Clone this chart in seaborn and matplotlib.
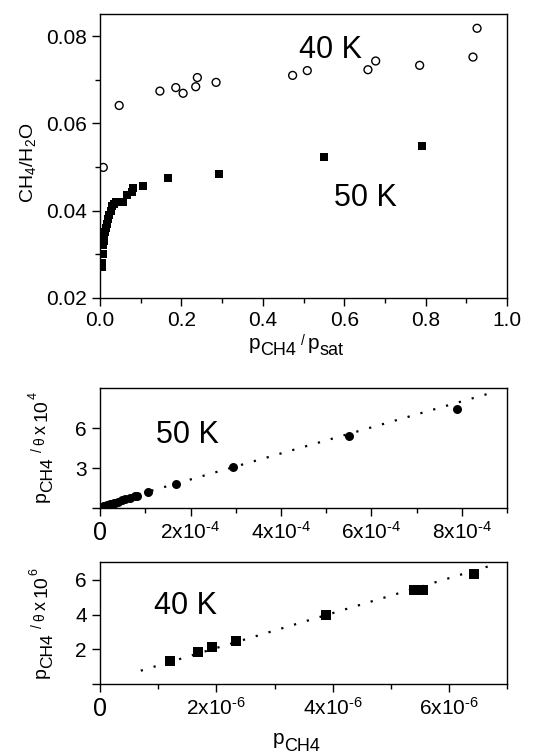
import numpy as np
import pandas as pd
import matplotlib
matplotlib.use('Agg')
import matplotlib.pyplot as plt
import seaborn as sns
from matplotlib.ticker import MultipleLocator, FixedLocator, FixedFormatter

# --- data ---
# top panel: CH4/H2O vs p/psat
x40 = [0.008, 0.047, 0.147, 0.186, 0.204, 0.235, 0.239, 0.285, 0.473, 0.509,
       0.658, 0.677, 0.785, 0.916, 0.926]
y40 = [0.0499, 0.0641, 0.0674, 0.0682, 0.0669, 0.0684, 0.0705, 0.0694, 0.0710, 0.0721,
       0.0723, 0.0743, 0.0733, 0.0752, 0.0818]

x50 = [0.005, 0.006, 0.007, 0.008, 0.009, 0.010, 0.012, 0.014, 0.016, 0.019,
       0.022, 0.026, 0.030, 0.034, 0.040, 0.048, 0.056, 0.066, 0.078, 0.082,
       0.106, 0.168, 0.292, 0.549, 0.790]
y50 = [0.027, 0.028, 0.030, 0.032, 0.033, 0.034, 0.035, 0.036, 0.037, 0.038,
       0.039, 0.040, 0.041, 0.0415, 0.042, 0.042, 0.042, 0.0435, 0.0442, 0.0452,
       0.0457, 0.0474, 0.0485, 0.0523, 0.0549]

# middle panel: 50 K linearised isotherm
p50 = [0.05e-4, 0.06e-4, 0.07e-4, 0.08e-4, 0.09e-4, 0.10e-4, 0.12e-4, 0.14e-4, 0.16e-4, 0.19e-4,
       0.22e-4, 0.26e-4, 0.30e-4, 0.34e-4, 0.40e-4, 0.48e-4, 0.56e-4, 0.66e-4, 0.78e-4, 0.82e-4,
       1.06e-4, 1.69e-4, 2.93e-4, 5.50e-4, 7.89e-4]
q50 = [0.10, 0.11, 0.12, 0.13, 0.14, 0.15, 0.18, 0.20, 0.22, 0.26,
       0.29, 0.34, 0.38, 0.42, 0.49, 0.59, 0.69, 0.78, 0.91, 0.94,
       1.20, 1.83, 3.08, 5.40, 7.43]
fit50_x = [0.0, 8.56e-4]
fit50_y = [0.20, 8.57]

# bottom panel: 40 K linearised isotherm
p40 = [1.21e-6, 1.68e-6, 1.93e-6, 2.34e-6, 3.89e-6, 5.40e-6, 5.55e-6, 6.43e-6]
q40 = [1.33, 1.85, 2.10, 2.47, 3.96, 5.41, 5.41, 6.36]
fit40_x = [0.70e-6, 6.76e-6]
fit40_y = [0.76, 6.86]

mid_xticks = [0, 2e-4, 4e-4, 6e-4, 8e-4]
mid_xlabels = ['0', '2x10$^{‐4}$', '4x10$^{‐4}$', '6x10$^{‐4}$', '8x10$^{‐4}$']
bot_xticks = [0, 2e-6, 4e-6, 6e-6]
bot_xlabels = ['0', '2x10$^{‐6}$', '4x10$^{‐6}$', '6x10$^{‐6}$']

# --- style ---
sns.set_style("ticks")
plt.rcParams['font.family'] = ['Liberation Sans', 'DejaVu Sans']
plt.rcParams['mathtext.fontset'] = 'custom'
plt.rcParams['mathtext.rm'] = 'Liberation Sans'
plt.rcParams['mathtext.it'] = 'Liberation Sans'
plt.rcParams['mathtext.default'] = 'regular'
for k in ['text.color', 'axes.labelcolor', 'axes.edgecolor', 'xtick.color', 'ytick.color']:
    plt.rcParams[k] = 'black'
plt.rcParams['xtick.direction'] = 'out'
plt.rcParams['ytick.direction'] = 'out'

tick_fs = 15
zero_fs = 18
txt_fs = 22

W, H = 535, 754
fig = plt.figure(figsize=(W / 100, H / 100), dpi=100)
ax1 = fig.add_axes([0.187, 0.605, 0.761, 0.376])
ax2 = fig.add_axes([0.187, 0.326, 0.761, 0.159])
ax3 = fig.add_axes([0.187, 0.093, 0.761, 0.161])


def style_ax(ax):
    for s in ax.spines.values():
        s.set_visible(True)
        s.set_color('black')
        s.set_linewidth(1.0)
    ax.tick_params(which='major', length=5.5, width=1, labelsize=tick_fs, pad=4)
    ax.tick_params(which='minor', length=3.5, width=1)
    ax.tick_params(top=False, right=False)


def rich_label(pieces, cx, cy, rotation=0):
    # pieces: (text, size, baseline shift px, gap before px); cx, cy in pixels from top-left
    renderer = fig.canvas.get_renderer()
    widths = []
    for s, fs, dy, gap in pieces:
        t = fig.text(0, 0, s, fontsize=fs)
        widths.append(t.get_window_extent(renderer).width)
        t.remove()
    total = sum(widths) + sum(p[3] for p in pieces)
    pos = -total / 2
    for (s, fs, dy, gap), w in zip(pieces, widths):
        pos += gap
        if rotation == 0:
            px, py = cx + pos, (H - cy) + dy
        else:
            px, py = cx - dy, (H - cy) + pos
        fig.text(px / W, py / H, s, fontsize=fs, rotation=rotation,
                 rotation_mode='anchor', ha='left', va='baseline')
        pos += w


# top panel
df40 = pd.DataFrame({'x': x40, 'y': y40})
df50 = pd.DataFrame({'x': x50, 'y': y50})
sns.scatterplot(data=df40, x='x', y='y', ax=ax1, marker='o', s=32,
                facecolors='none', edgecolor='black', linewidth=1.0)
sns.scatterplot(data=df50, x='x', y='y', ax=ax1, marker='s', s=32,
                color='black', linewidth=0)
ax1.set_xlim(0, 1.0)
ax1.set_ylim(0.02, 0.085)
ax1.xaxis.set_major_locator(MultipleLocator(0.2))
ax1.xaxis.set_minor_locator(MultipleLocator(0.1))
ax1.yaxis.set_major_locator(MultipleLocator(0.02))
ax1.yaxis.set_minor_locator(MultipleLocator(0.01))
ax1.xaxis.set_major_formatter(plt.FuncFormatter(lambda v, p: f'{v:.1f}'))
ax1.yaxis.set_major_formatter(plt.FuncFormatter(lambda v, p: f'{v:.2f}'))
ax1.set_xlabel('')
ax1.set_ylabel('CH$_4$/H$_2$O', fontsize=14)
ax1.yaxis.set_label_coords(-0.152, 0.475)
ax1.text(0.565, 0.0768, '40 K', fontsize=txt_fs, ha='center', va='center')
ax1.text(0.653, 0.0428, '50 K', fontsize=txt_fs, ha='center', va='center')
style_ax(ax1)

# middle panel
dm = pd.DataFrame({'x': p50, 'y': q50})
dfit50 = pd.DataFrame({'x': fit50_x, 'y': fit50_y})
sns.lineplot(data=dfit50, x='x', y='y', ax=ax2, color='black',
             linestyle=(0, (1, 5)), linewidth=1.6)
sns.scatterplot(data=dm, x='x', y='y', ax=ax2, marker='o', s=42,
                color='black', linewidth=0)
ax2.set_xlim(0, 9e-4)
ax2.set_ylim(0, 9)
ax2.xaxis.set_major_locator(FixedLocator(mid_xticks))
ax2.xaxis.set_major_formatter(FixedFormatter(mid_xlabels))
ax2.xaxis.set_minor_locator(MultipleLocator(1e-4))
ax2.yaxis.set_major_locator(FixedLocator([0, 3, 6]))
ax2.yaxis.set_major_formatter(FixedFormatter(['', '3', '6']))
ax2.set_xlabel('')
ax2.set_ylabel('')
ax2.text(1.93e-4, 5.5, '50 K', fontsize=txt_fs, ha='center', va='center')
style_ax(ax2)

# bottom panel
db = pd.DataFrame({'x': p40, 'y': q40})
dfit40 = pd.DataFrame({'x': fit40_x, 'y': fit40_y})
sns.lineplot(data=dfit40, x='x', y='y', ax=ax3, color='black',
             linestyle=(0, (1, 5)), linewidth=1.6)
sns.scatterplot(data=db, x='x', y='y', ax=ax3, marker='s', s=42,
                color='black', linewidth=0)
ax3.set_xlim(0, 7e-6)
ax3.set_ylim(0, 7)
ax3.xaxis.set_major_locator(FixedLocator(bot_xticks))
ax3.xaxis.set_major_formatter(FixedFormatter(bot_xlabels))
ax3.xaxis.set_minor_locator(MultipleLocator(1e-6))
ax3.yaxis.set_major_locator(FixedLocator([0, 2, 4, 6]))
ax3.yaxis.set_major_formatter(FixedFormatter(['', '2', '4', '6']))
ax3.set_xlabel('')
ax3.set_ylabel('')
ax3.text(1.47e-6, 4.51, '40 K', fontsize=txt_fs, ha='center', va='center')
style_ax(ax3)

# the "0" on the lower x axes is drawn larger in the original
for ax in (ax2, ax3):
    ax.get_xticklabels()[0].set_fontsize(zero_fs)

# axis labels with near full-size subscripts
rich_label([('p', 15, 0, 0), ('CH4', 13, -6, 0), ('/', 10, 4, 5),
            ('p', 15, 0, 3), ('sat', 13, -6, 0)], 296, 349)
rich_label([('p', 15, 0, 0), ('CH4', 13, -7, 0)], 296, 744)
rich_label([('p', 14, 0, 0), ('CH4', 12.5, -6, 0), ('/', 10, 4, 5), ('θ', 10, 2, 3),
            ('x', 13, 0, 3), ('10', 14, 0, 4), ('4', 9, 9, 1)], 46, 447, rotation=90)
rich_label([('p', 14, 0, 0), ('CH4', 12.5, -6, 0), ('/', 10, 4, 5), ('θ', 10, 2, 3),
            ('x', 13, 0, 3), ('10', 14, 0, 4), ('6', 9, 9, 1)], 46, 623, rotation=90)

fig.savefig('out.png', dpi=100)
